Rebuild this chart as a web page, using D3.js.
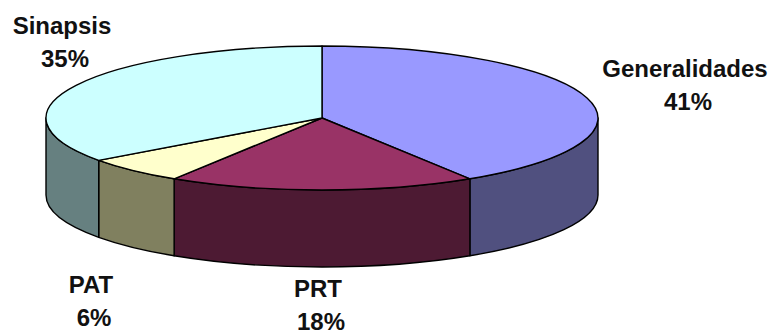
<!DOCTYPE html>
<html><head><meta charset="utf-8">
<script src="https://cdn.jsdelivr.net/npm/d3@7"></script>
<style>html,body{margin:0;padding:0;background:#fff;}svg{display:block;}</style>
</head><body>
<svg id="chart" width="773" height="334"></svg>
<script>
const categories = ["Generalidades", "PRT", "PAT", "Sinapsis"];
const values = [41, 18, 6, 35];
const percentLabels = ["41%", "18%", "6%", "35%"];
const topColors = ["#9999FF", "#993366", "#FFFFCC", "#CCFFFF"];
const sideColors = ["#50507F", "#4D1A33", "#80805F", "#668080"];

const W = 773, H = 334;
const cx = 322, cy = 118, rx = 276, ry = 72, depth = 77;
const svg = d3.select("#chart");

const pie = d3.pie().sort(null).startAngle(0).endAngle(2 * Math.PI);
const arcs = pie(values).map((d, i) => Object.assign(d, {i}));

const px = a => cx + rx * Math.sin(a);
const py = a => cy - ry * Math.cos(a);

function topPath(d) {
  const a0 = d.startAngle, a1 = d.endAngle;
  const large = (a1 - a0) > Math.PI ? 1 : 0;
  return `M${cx},${cy}L${px(a0)},${py(a0)}A${rx},${ry} 0 ${large} 1 ${px(a1)},${py(a1)}Z`;
}
function sidePath(d) {
  const a0 = Math.max(d.startAngle, Math.PI / 2);
  const a1 = Math.min(d.endAngle, 3 * Math.PI / 2);
  if (a1 <= a0) return null;
  const large = (a1 - a0) > Math.PI ? 1 : 0;
  return `M${px(a0)},${py(a0)}A${rx},${ry} 0 ${large} 1 ${px(a1)},${py(a1)}` +
         `L${px(a1)},${py(a1) + depth}A${rx},${ry} 0 ${large} 0 ${px(a0)},${py(a0) + depth}Z`;
}

const g = svg.append("g");
g.selectAll("path.side").data(arcs.filter(d => sidePath(d)))
  .join("path").attr("class", "side")
  .attr("d", sidePath)
  .attr("fill", d => sideColors[d.i])
  .attr("stroke", "#000").attr("stroke-width", 1.4).attr("stroke-linejoin", "round");
g.selectAll("path.top").data(arcs)
  .join("path").attr("class", "top")
  .attr("d", topPath)
  .attr("fill", d => topColors[d.i])
  .attr("stroke", "#000").attr("stroke-width", 1.4).attr("stroke-linejoin", "round");

// label anchor positions (center x, baseline of first line)
const labelPos = [[685, 77], [318, 297], [91, 293], [62, 34]];
const lab = svg.append("g")
  .attr("font-family", "'Liberation Sans', Arial, sans-serif")
  .attr("font-weight", "bold").attr("font-size", "24px")
  .attr("fill", "#111").attr("text-anchor", "middle");
arcs.forEach(d => {
  const [x, y] = labelPos[d.i];
  lab.append("text").attr("x", x).attr("y", y).text(categories[d.i]);
  lab.append("text").attr("x", x + 3).attr("y", y + 33).text(percentLabels[d.i]);
});
</script>
</body></html>
